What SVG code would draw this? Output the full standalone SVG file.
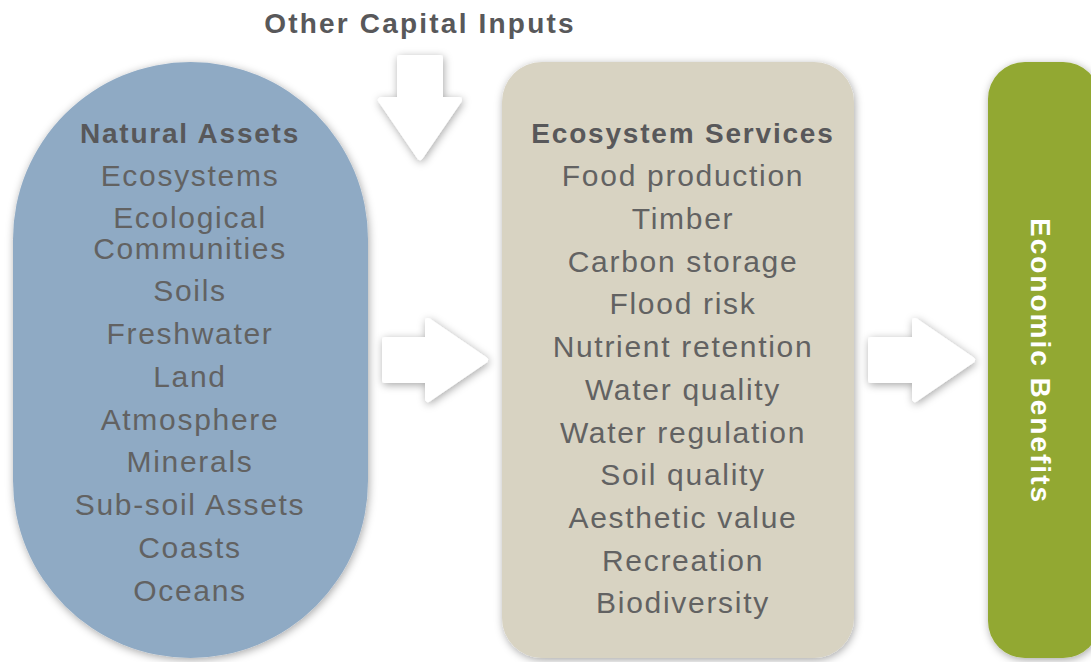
<svg xmlns="http://www.w3.org/2000/svg" width="1091" height="662" viewBox="0 0 1091 662">
<style>
.h{font-family:"Liberation Sans",Arial,sans-serif;font-weight:bold;font-size:28px;fill:#58585a;letter-spacing:1.8px;text-anchor:middle}
.t{font-family:"Liberation Sans",Arial,sans-serif;font-size:30px;fill:#626262;letter-spacing:1.7px;text-anchor:middle}
.arrow{fill:#fff;stroke:#fff;stroke-width:6;stroke-linejoin:round;filter:url(#sh)}
</style>
<defs>
<filter id="sh" x="-20%" y="-20%" width="140%" height="140%">
<feDropShadow dx="1" dy="2" stdDeviation="4" flood-color="#000" flood-opacity="0.35"/>
</filter>
</defs>
<rect width="1091" height="662" fill="#fff"/>
<g id="natural-assets">
<rect x="13" y="62" width="355" height="596" rx="177.5" fill="#8faac4" filter="url(#sh)"/>
<text class="h" x="190" y="143">Natural Assets</text>
<text class="t" x="190" y="186">Ecosystems</text>
<text class="t" x="190" y="228">Ecological</text>
<text class="t" x="190" y="259">Communities</text>
<text class="t" x="190" y="301">Soils</text>
<text class="t" x="190" y="344">Freshwater</text>
<text class="t" x="190" y="387">Land</text>
<text class="t" x="190" y="430">Atmosphere</text>
<text class="t" x="190" y="472">Minerals</text>
<text class="t" x="190" y="515">Sub-soil Assets</text>
<text class="t" x="190" y="558">Coasts</text>
<text class="t" x="190" y="601">Oceans</text>
</g>
<g id="ecosystem-services">
<rect x="502" y="62" width="352" height="596" rx="40" fill="#d8d3c2" filter="url(#sh)"/>
<text class="h" x="683" y="143">Ecosystem Services</text>
<text class="t" x="683" y="186">Food production</text>
<text class="t" x="683" y="229">Timber</text>
<text class="t" x="683" y="272">Carbon storage</text>
<text class="t" x="683" y="314">Flood risk</text>
<text class="t" x="683" y="357">Nutrient retention</text>
<text class="t" x="683" y="400">Water quality</text>
<text class="t" x="683" y="443">Water regulation</text>
<text class="t" x="683" y="485">Soil quality</text>
<text class="t" x="683" y="528">Aesthetic value</text>
<text class="t" x="683" y="571">Recreation</text>
<text class="t" x="683" y="613">Biodiversity</text>
</g>
<g id="economic-benefits">
<rect x="988" y="62" width="112" height="596" rx="37" fill="#92a831" filter="url(#sh)"/>
<text transform="translate(1031,361) rotate(90)" style="font-family:'Liberation Sans',Arial,sans-serif;font-weight:bold;font-size:28px;fill:#fff;letter-spacing:2px;text-anchor:middle">Economic Benefits</text>
</g>
<g id="other-capital-inputs">
<text class="h" x="420" y="33" style="letter-spacing:2.2px">Other Capital Inputs</text>
</g>
<g id="connectors">
<path class="arrow" d="M400,58 H440 V100 H459 L420,157 L381,100 H400 Z"/>
<path class="arrow" d="M385,340 H428 V321 L485,360 L428,399 V380 H385 Z"/>
<path class="arrow" d="M871,340 H915 V321 L972,360 L915,399 V380 H871 Z"/>
</g>
</svg>
